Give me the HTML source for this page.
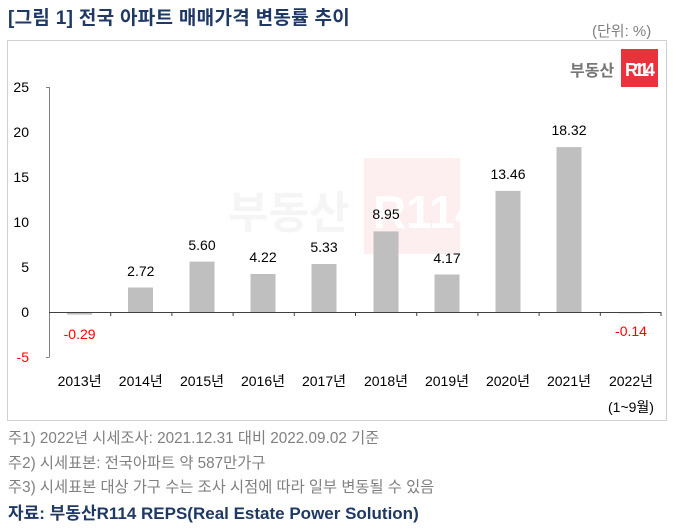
<!DOCTYPE html>
<html><head><meta charset="utf-8"><style>
body{margin:0;width:675px;height:529px;background:#fff;position:relative;overflow:hidden;font-family:"Liberation Sans","Noto Sans CJK KR",sans-serif}
.t{position:absolute;white-space:nowrap}
</style></head><body>
<div class="t" style="left:8px;top:3px;font-size:19px;font-weight:bold;color:#1f3864;letter-spacing:0.3px">[그림 1] 전국 아파트 매매가격 변동률 추이</div>
<div class="t" style="left:592px;top:20px;font-size:15px;color:#808080">(단위: %)</div>
<div style="position:absolute;left:7px;top:40px;width:660px;height:381px;border:1px solid #d0d0d0;box-sizing:border-box"></div>
<svg width="675" height="529" style="position:absolute;left:0;top:0" font-family="Liberation Sans, Noto Sans CJK KR, sans-serif">
<g opacity="0.08">
<text x="228" y="228" font-size="44" font-weight="bold" fill="#888">부동산</text>
<rect x="364" y="158" width="96" height="96" fill="#e8323c"/>
<text x="373" y="228" font-size="46" font-weight="bold" fill="#fff">R114</text>
</g>
<text x="570" y="76" font-size="16" font-weight="bold" fill="#777">부동산</text>
<rect x="621" y="49" width="37" height="38" fill="#e8323c"/>
<text x="625" y="76" font-size="18" font-weight="bold" fill="#fff" textLength="30">R114</text>
<g fill="#bfbfbf">
<rect x="67" y="312" width="25" height="2.6"/>
<rect x="128" y="287.5" width="25" height="24.5"/>
<rect x="189.5" y="261.6" width="25" height="50.4"/>
<rect x="250.5" y="274" width="25" height="38"/>
<rect x="311.5" y="264" width="25" height="48"/>
<rect x="373.5" y="231.4" width="25" height="80.6"/>
<rect x="434.5" y="274.5" width="25" height="37.5"/>
<rect x="495.5" y="190.9" width="25" height="121.1"/>
<rect x="556.5" y="147.1" width="25" height="164.9"/>
<rect x="618.5" y="312" width="25" height="1.3"/>
</g>
<g stroke="#808080" stroke-width="1">
<line x1="49.5" y1="87" x2="49.5" y2="357"/>
<line x1="46" y1="87.5" x2="49.5" y2="87.5"/>
<line x1="46" y1="357.5" x2="49.5" y2="357.5"/>
<line x1="49" y1="312.5" x2="661" y2="312.5" stroke="#404040"/>
<g stroke="#404040">
<line x1="110.7" y1="312" x2="110.7" y2="316"/><line x1="171.9" y1="312" x2="171.9" y2="316"/><line x1="233.1" y1="312" x2="233.1" y2="316"/><line x1="294.3" y1="312" x2="294.3" y2="316"/><line x1="355.5" y1="312" x2="355.5" y2="316"/><line x1="416.7" y1="312" x2="416.7" y2="316"/><line x1="477.9" y1="312" x2="477.9" y2="316"/><line x1="539.1" y1="312" x2="539.1" y2="316"/><line x1="600.3" y1="312" x2="600.3" y2="316"/><line x1="661" y1="312" x2="661" y2="316"/>
</g></g>
<g font-size="14" fill="#000" text-anchor="end">
<text x="29" y="92">25</text><text x="29" y="137">20</text><text x="29" y="182">15</text><text x="29" y="227">10</text><text x="29" y="272">5</text><text x="29" y="317">0</text><text x="29" y="362" fill="#ff0000">-5</text>
</g>
<g font-size="14" text-anchor="middle">
<text x="79.6" y="339" fill="#ff0000">-0.29</text>
<text x="140.8" y="276" fill="#000">2.72</text>
<text x="202" y="250" fill="#000">5.60</text>
<text x="263" y="262" fill="#000">4.22</text>
<text x="324" y="252" fill="#000">5.33</text>
<text x="386" y="219" fill="#000">8.95</text>
<text x="447" y="263" fill="#000">4.17</text>
<text x="508" y="179" fill="#000">13.46</text>
<text x="569" y="135" fill="#000">18.32</text>
<text x="631" y="336" fill="#ff0000">-0.14</text>
</g>
<g font-size="14" text-anchor="middle" fill="#000">
<text x="79.6" y="386">2013년</text><text x="140.8" y="386">2014년</text><text x="202" y="386">2015년</text><text x="263" y="386">2016년</text><text x="324" y="386">2017년</text><text x="386" y="386">2018년</text><text x="447" y="386">2019년</text><text x="508" y="386">2020년</text><text x="569" y="386">2021년</text><text x="631" y="386">2022년</text>
<text x="631" y="412">(1~9월)</text>
</g>
</svg>
<div class="t" style="left:8px;top:426px;font-size:15.3px;color:#808080">주1) 2022년 시세조사: 2021.12.31 대비 2022.09.02 기준</div>
<div class="t" style="left:8px;top:451px;font-size:15.3px;color:#808080">주2) 시세표본: 전국아파트 약 587만가구</div>
<div class="t" style="left:8px;top:475px;font-size:15.3px;color:#808080">주3) 시세표본 대상 가구 수는 조사 시점에 따라 일부 변동될 수 있음</div>
<div class="t" style="left:8px;top:499px;font-size:17px;font-weight:bold;color:#1f3864">자료: 부동산R114 REPS(Real Estate Power Solution)</div>
</body></html>
